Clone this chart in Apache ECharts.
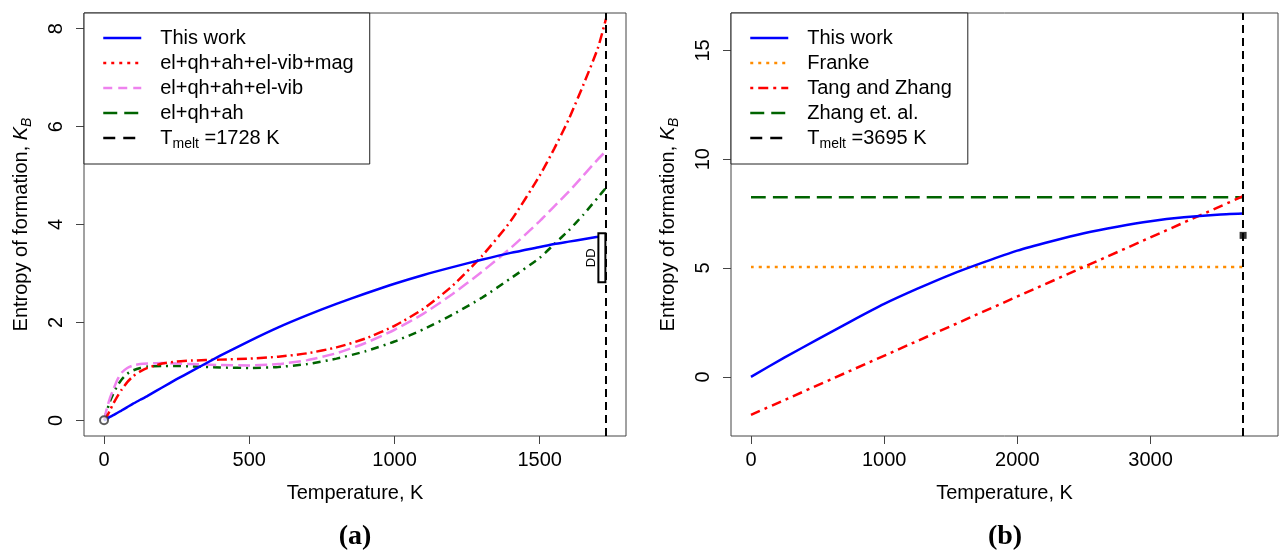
<!DOCTYPE html>
<html>
<head>
<meta charset="utf-8">
<script src="https://cdn.jsdelivr.net/npm/echarts@6/dist/echarts.min.js"></script>
<style>
  html, body { margin: 0; padding: 0; background: #fff; }
  #chart { width: 1284px; height: 552px; }
</style>
</head>
<body>
<div id="chart"></div>
<script>
// ---- panel (a) data ----
const tempA = [0, 10, 20, 30, 45, 60, 80, 100, 125, 150, 200, 250, 300, 400, 500, 600, 700, 800, 900, 1000, 1100, 1200, 1300, 1400, 1500, 1550, 1600, 1650, 1700, 1728];
const thisWorkA = [0, 0.03, 0.07, 0.1, 0.15, 0.2, 0.27, 0.34, 0.42, 0.5, 0.67, 0.84, 1.0, 1.32, 1.62, 1.9, 2.15, 2.38, 2.59, 2.79, 2.97, 3.13, 3.28, 3.42, 3.54, 3.6, 3.65, 3.7, 3.75, 3.78];
const withMag = [0, 0.08, 0.2, 0.32, 0.48, 0.62, 0.78, 0.9, 1.0, 1.07, 1.16, 1.2, 1.22, 1.24, 1.26, 1.3, 1.37, 1.49, 1.67, 1.93, 2.28, 2.75, 3.35, 4.07, 5.0, 5.55, 6.15, 6.85, 7.6, 8.2];
const withElVib = [0, 0.25, 0.45, 0.6, 0.82, 0.97, 1.07, 1.12, 1.15, 1.16, 1.17, 1.16, 1.15, 1.13, 1.12, 1.15, 1.23, 1.37, 1.58, 1.85, 2.18, 2.58, 3.03, 3.52, 4.07, 4.37, 4.67, 5.0, 5.33, 5.5];
const elQhAh = [0, 0.2, 0.38, 0.52, 0.7, 0.83, 0.95, 1.02, 1.07, 1.1, 1.11, 1.11, 1.1, 1.08, 1.07, 1.09, 1.15, 1.26, 1.41, 1.61, 1.86, 2.16, 2.5, 2.9, 3.32, 3.6, 3.88, 4.2, 4.55, 4.75];
const tMeltA = 1728;
const ddT = 1714;
const ddRange = [2.82, 3.82];

// ---- panel (b) data ----
const tempB = [0, 250, 500, 750, 1000, 1250, 1500, 1750, 2000, 2250, 2500, 2750, 3000, 3250, 3500, 3695];
const thisWorkB = [0, 0.88, 1.72, 2.55, 3.35, 4.05, 4.7, 5.27, 5.8, 6.22, 6.6, 6.9, 7.15, 7.33, 7.45, 7.5];
const tempLineB = [0, 3695];
const franke = [5.05, 5.05];
const tangZhang = [-1.75, 8.3];
const zhangEtAl = [8.25, 8.25];
const tMeltB = 3695;
const expPointB = [3695, 6.5];

// ---- tick labels ----
const xTicksA = [0, 500, 1000, 1500];
const yTicksA = [0, 2, 4, 6, 8];
const xTicksB = [0, 1000, 2000, 3000];
const yTicksB = [0, 5, 10, 15];

const FONT = '"Liberation Sans", Arial, sans-serif';
const FRAME = '#444';

const chart = echarts.init(document.getElementById('chart'), null, { renderer: 'canvas' });

function pairs(xs, ys) {
  return xs.map((x, i) => [x, ys[i]]);
}

function xAxisOf(gridIndex, min, max, ticks) {
  return {
    type: 'value', gridIndex, min, max,
    name: 'Temperature, K', nameLocation: 'middle', nameGap: 47,
    nameTextStyle: { fontSize: 20, color: '#000', fontFamily: FONT },
    axisLine: { show: false, onZero: false },
    axisTick: { show: true, length: 8, customValues: ticks, lineStyle: { color: FRAME } },
    axisLabel: { customValues: ticks, margin: 14, fontSize: 20, color: '#000', fontFamily: FONT, formatter: (v) => String(v) },
    splitLine: { show: false }
  };
}

function yAxisOf(gridIndex, min, max, ticks) {
  return {
    type: 'value', gridIndex, min, max,
    name: 'Entropy of formation, {i|K}{sub|B}', nameLocation: 'middle', nameGap: 50,
    nameTextStyle: {
      fontSize: 20, color: '#000', fontFamily: FONT,
      rich: {
        i: { fontSize: 20, fontStyle: 'italic', fontFamily: FONT, color: '#000' },
        sub: { fontSize: 14, fontStyle: 'italic', fontFamily: FONT, color: '#000', verticalAlign: 'bottom', lineHeight: 26 }
      }
    },
    axisLine: { show: false, onZero: false },
    axisTick: { show: true, length: 8, customValues: ticks, lineStyle: { color: FRAME } },
    axisLabel: { customValues: ticks, rotate: 90, margin: 18, fontSize: 20, color: '#000', fontFamily: FONT, formatter: (v) => String(v) },
    splitLine: { show: false }
  };
}

function curve(name, idx, data, color, dash) {
  return {
    type: 'line', name, xAxisIndex: idx, yAxisIndex: idx, data,
    symbol: 'none', smooth: 0.2, silent: true,
    lineStyle: { color, width: 2.5, type: dash },
    itemStyle: { color }
  };
}

function meltLine(name, idx, t) {
  return {
    type: 'line', name, xAxisIndex: idx, yAxisIndex: idx, data: [],
    symbol: 'none', silent: true, z: 5,
    lineStyle: { color: '#000', width: 2, type: [8, 5] },
    itemStyle: { color: '#000' },
    markLine: {
      symbol: 'none', silent: true, label: { show: false },
      lineStyle: { color: '#000', width: 2, type: [8, 5] },
      data: [{ xAxis: t }]
    }
  };
}

function legendOf(left, names, styles) {
  return {
    left, top: 13, orient: 'vertical', selectedMode: false,
    padding: [15, 16, 13, 18], itemGap: 5, itemWidth: 38, itemHeight: 14,
    borderColor: '#222', borderWidth: 1, backgroundColor: '#fff',
    itemStyle: { opacity: 0, borderWidth: 0 },
    formatter: (name) => name.startsWith('Tmelt') ? `T{sub|melt} =${name.slice(5)} K` : name,
    textStyle: {
      fontSize: 20, color: '#000', fontFamily: FONT, padding: [0, 0, 0, 14],
      rich: {
        sub: { fontSize: 14, fontFamily: FONT, color: '#000', verticalAlign: 'bottom', lineHeight: 26 }
      }
    },
    data: names.map((n, i) => ({ name: n, lineStyle: styles[i] }))
  };
}

const option = {
  animation: false,
  backgroundColor: '#fff',
  grid: [
    { left: 84, top: 13, width: 542, height: 423, show: true, borderColor: FRAME, borderWidth: 1, backgroundColor: 'transparent' },
    { left: 731, top: 13, width: 547, height: 423, show: true, borderColor: FRAME, borderWidth: 1, backgroundColor: 'transparent' }
  ],
  xAxis: [
    xAxisOf(0, -69, 1797, xTicksA),
    xAxisOf(1, -150, 3957, xTicksB)
  ],
  yAxis: [
    yAxisOf(0, -0.32, 8.32, yTicksA),
    yAxisOf(1, -2.72, 16.72, yTicksB)
  ],
  legend: [
    legendOf(84,
      ['This work', 'el+qh+ah+el-vib+mag', 'el+qh+ah+el-vib', 'el+qh+ah', 'Tmelt' + tMeltA],
      [
        { color: '#0000ff', type: 'solid', width: 2.5 },
        { color: '#ff0000', type: [3, 5], width: 2.5 },
        { color: '#ee82ee', type: [9, 6], width: 2.5 },
        { color: '#006400', type: [14, 7], width: 2.5 },
        { color: '#000', type: [12, 8], width: 2.5 }
      ]),
    legendOf(731,
      ['This work', 'Franke', 'Tang and Zhang', 'Zhang et. al.', 'Tmelt' + tMeltB],
      [
        { color: '#0000ff', type: 'solid', width: 2.5 },
        { color: '#ff8c00', type: [3, 5], width: 2.5 },
        { color: '#ff0000', type: [3, 5, 10, 5], width: 2.5 },
        { color: '#006400', type: [14, 7], width: 2.5 },
        { color: '#000', type: [12, 8], width: 2.5 }
      ])
  ],
  graphic: [
    { type: 'text', x: 355, y: 537, style: { text: '(a)', fontSize: 28, fontWeight: 'bold', fontFamily: '"Liberation Serif", serif', fill: '#000', align: 'center', verticalAlign: 'middle' } },
    { type: 'text', x: 1005, y: 537, style: { text: '(b)', fontSize: 28, fontWeight: 'bold', fontFamily: '"Liberation Serif", serif', fill: '#000', align: 'center', verticalAlign: 'middle' } }
  ],
  series: [
    // panel (a)
    curve('el+qh+ah', 0, pairs(tempA, elQhAh), '#006400', [8, 5, 2, 5]),
    curve('el+qh+ah+el-vib', 0, pairs(tempA, withElVib), '#ee82ee', [12, 5]),
    curve('el+qh+ah+el-vib+mag', 0, pairs(tempA, withMag), '#ff0000', [10, 4, 2, 4]),
    curve('This work', 0, pairs(tempA, thisWorkA), '#0000ff', 'solid'),
    meltLine('Tmelt' + tMeltA, 0, tMeltA),
    {
      type: 'scatter', name: 'origin', xAxisIndex: 0, yAxisIndex: 0, silent: true,
      data: [[tempA[0], thisWorkA[0]]], symbol: 'emptyCircle', symbolSize: 8,
      itemStyle: { color: '#333', borderColor: '#333', borderWidth: 1 }, z: 6
    },
    {
      type: 'custom', name: 'DD', xAxisIndex: 0, yAxisIndex: 0, silent: true, z: 7,
      data: [[ddT, ddRange[0], ddRange[1]]],
      renderItem: (params, api) => {
        const top = api.coord([api.value(0), api.value(2)]);
        const bot = api.coord([api.value(0), api.value(1)]);
        return {
          type: 'group',
          children: [
            { type: 'rect', shape: { x: top[0] - 3.5, y: top[1], width: 7, height: bot[1] - top[1] },
              style: { fill: '#fff', stroke: '#000', lineWidth: 2 } },
            { type: 'text', x: top[0] - 10, y: (top[1] + bot[1]) / 2, rotation: Math.PI / 2,
              style: { text: 'DD', fontSize: 13, fontFamily: FONT, fill: '#000', align: 'center', verticalAlign: 'middle' } }
          ]
        };
      }
    },
    // panel (b)
    curve('Franke', 1, pairs(tempLineB, franke), '#ff8c00', [3, 5]),
    curve('Zhang et. al.', 1, pairs(tempLineB, zhangEtAl), '#006400', [15, 7]),
    curve('Tang and Zhang', 1, pairs(tempLineB, tangZhang), '#ff0000', [10, 5, 3, 5]),
    curve('This work', 1, pairs(tempB, thisWorkB), '#0000ff', 'solid'),
    meltLine('Tmelt' + tMeltB, 1, tMeltB),
    {
      type: 'scatter', name: 'exp', xAxisIndex: 1, yAxisIndex: 1, silent: true,
      data: [expPointB], symbol: 'rect', symbolSize: 7,
      itemStyle: { color: '#000' }, z: 6
    }
  ]
};

chart.setOption(option);
</script>
</body>
</html>
